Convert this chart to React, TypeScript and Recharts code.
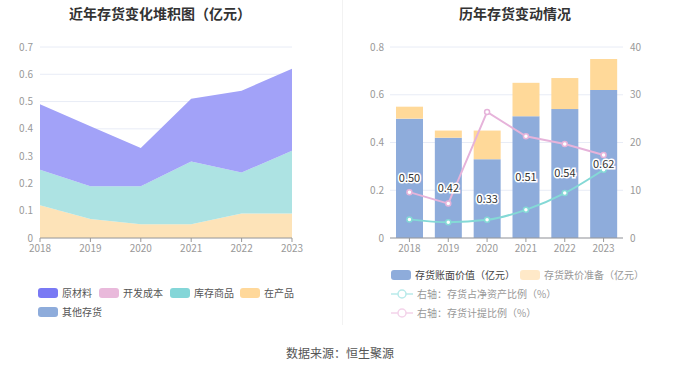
import {
  Area,
  AreaChart,
  Bar,
  CartesianGrid,
  ComposedChart,
  LabelList,
  Line,
  XAxis,
  YAxis,
} from "recharts";

const years = ["2018", "2019", "2020", "2021", "2022", "2023"];

// left: stacked inventory composition (亿元)
const rawMaterial = [0.24, 0.22, 0.14, 0.23, 0.3, 0.3];
const devCost = [0, 0, 0, 0, 0, 0];
const goodsInStock = [0.13, 0.12, 0.14, 0.23, 0.15, 0.23];
const workInProgress = [0.12, 0.07, 0.05, 0.05, 0.09, 0.09];
const otherInventory = [0, 0, 0, 0, 0, 0];
const leftTicks = [0, 0.1, 0.2, 0.3, 0.4, 0.5, 0.6, 0.7];

// right: book value + impairment, ratios on right axis
const bookValue = [0.5, 0.42, 0.33, 0.51, 0.54, 0.62];
const impairment = [0.05, 0.03, 0.12, 0.14, 0.13, 0.13];
const netAssetRatio = [3.9, 3.3, 3.8, 5.9, 9.4, 14.3];
const provisionRatio = [9.6, 7.2, 26.4, 21.3, 19.7, 17.4];
const rightLeftTicks = [0, 0.2, 0.4, 0.6, 0.8];
const rightRightTicks = [0, 10, 20, 30, 40];

const FONT = '"Noto Sans CJK SC", "Noto Sans", sans-serif';

const COLORS = {
  raw: "#7979F4",
  rawArea: "#A2A2F8",
  dev: "#E9B9DB",
  goods: "#84D6D8",
  goodsArea: "#ADE3E3",
  wip: "#FFD89A",
  wipArea: "#FDE3B8",
  other: "#8EACDB",
  book: "#8EACDB",
  impair: "#FFD999",
  netRatio: "#84D9D6",
  provRatio: "#E6B3DA",
  grid: "#E8ECF6",
  axis: "#999999",
  tick: "#999999",
};

const leftData = years.map((y, i) => ({
  year: y,
  原材料: rawMaterial[i],
  开发成本: devCost[i],
  库存商品: goodsInStock[i],
  在产品: workInProgress[i],
  其他存货: otherInventory[i],
}));

const rightData = years.map((y, i) => ({
  year: y,
  book: bookValue[i],
  impair: impairment[i],
  net: netAssetRatio[i],
  prov: provisionRatio[i],
}));

const tickStyle = { fill: COLORS.tick, fontSize: 10, fontFamily: FONT };

function Swatch({ color }: { color: string }) {
  return (
    <span
      style={{
        display: "inline-block",
        width: 20,
        height: 10,
        borderRadius: 3,
        background: color,
        marginRight: 4,
      }}
    />
  );
}

function LineIcon({ color }: { color: string }) {
  return (
    <svg width={22} height={12} style={{ marginRight: 4 }}>
      <line x1={0} y1={6} x2={22} y2={6} stroke={color} strokeWidth={1.5} />
      <circle cx={11} cy={6} r={4} fill="#fff" stroke={color} strokeWidth={1.5} />
    </svg>
  );
}

function LegendItem({
  x,
  y,
  icon,
  label,
  color,
}: {
  x: number;
  y: number;
  icon: React.ReactNode;
  label: string;
  color: string;
}) {
  return (
    <div
      style={{
        position: "absolute",
        left: x,
        top: y,
        display: "flex",
        alignItems: "center",
        fontSize: 10,
        color,
        whiteSpace: "nowrap",
        lineHeight: "12px",
      }}
    >
      {icon}
      {label}
    </div>
  );
}

export default function App() {
  return (
    <div
      style={{
        position: "fixed",
        left: 0,
        top: 0,
        width: 680,
        height: 367,
        background: "#fff",
        fontFamily: FONT,
        overflow: "hidden",
      }}
    >
      {/* titles */}
      <div
        style={{
          position: "absolute",
          left: 0,
          width: 320,
          top: 3,
          textAlign: "center",
          fontSize: 14,
          fontWeight: "bold",
          color: "#333",
        }}
      >
        近年存货变化堆积图（亿元）
      </div>
      <div
        style={{
          position: "absolute",
          left: 340,
          width: 350,
          top: 3,
          textAlign: "center",
          fontSize: 14,
          fontWeight: "bold",
          color: "#333",
        }}
      >
        历年存货变动情况
      </div>

      {/* separator */}
      <div
        style={{
          position: "absolute",
          left: 342,
          top: 0,
          width: 1,
          height: 325,
          background: "#F2F2F2",
        }}
      />

      {/* left chart */}
      <div style={{ position: "absolute", left: 0, top: 0 }}>
        <AreaChart
          width={340}
          height={260}
          data={leftData}
          margin={{ top: 47, right: 48, left: 0, bottom: 0 }}
        >
          <CartesianGrid vertical={false} stroke={COLORS.grid} />
          <XAxis
            dataKey="year"
            height={22}
            tick={tickStyle}
            tickSize={4}
            tickMargin={3}
            axisLine={{ stroke: COLORS.axis }}
            tickLine={{ stroke: COLORS.axis }}
            interval={0}
          />
          <YAxis
            width={40}
            domain={[0, 0.7]}
            ticks={leftTicks}
            tick={tickStyle}
            tickSize={0}
            tickMargin={7}
            axisLine={false}
            tickLine={false}
          />
          <Area
            type="linear"
            dataKey="在产品"
            stackId="a"
            fill={COLORS.wipArea}
            fillOpacity={1}
            stroke="none"
            isAnimationActive={false}
          />
          <Area
            type="linear"
            dataKey="库存商品"
            stackId="a"
            fill={COLORS.goodsArea}
            fillOpacity={1}
            stroke="none"
            isAnimationActive={false}
          />
          <Area
            type="linear"
            dataKey="开发成本"
            stackId="a"
            fill={COLORS.dev}
            fillOpacity={1}
            stroke="none"
            isAnimationActive={false}
          />
          <Area
            type="linear"
            dataKey="其他存货"
            stackId="a"
            fill={COLORS.other}
            fillOpacity={1}
            stroke="none"
            isAnimationActive={false}
          />
          <Area
            type="linear"
            dataKey="原材料"
            stackId="a"
            fill={COLORS.rawArea}
            fillOpacity={1}
            stroke="none"
            isAnimationActive={false}
          />
        </AreaChart>
      </div>

      {/* right chart */}
      <div style={{ position: "absolute", left: 340, top: 0 }}>
        <ComposedChart
          width={340}
          height={260}
          data={rightData}
          margin={{ top: 47, right: 0, left: 0, bottom: 0 }}
        >
          <CartesianGrid vertical={false} stroke={COLORS.grid} yAxisId="left" />
          <XAxis
            dataKey="year"
            height={22}
            tick={tickStyle}
            tickSize={4}
            tickMargin={3}
            axisLine={{ stroke: COLORS.axis }}
            tickLine={{ stroke: COLORS.axis }}
            interval={0}
          />
          <YAxis
            yAxisId="left"
            width={50}
            domain={[0, 0.8]}
            ticks={rightLeftTicks}
            tick={tickStyle}
            tickSize={0}
            tickMargin={6}
            axisLine={false}
            tickLine={false}
          />
          <YAxis
            yAxisId="right"
            orientation="right"
            width={57}
            domain={[0, 40]}
            ticks={rightRightTicks}
            tick={tickStyle}
            tickSize={0}
            tickMargin={7}
            axisLine={false}
            tickLine={false}
          />
          <Bar
            yAxisId="left"
            dataKey="book"
            stackId="b"
            fill={COLORS.book}
            barSize={27}
            isAnimationActive={false}
          >
            <LabelList
              dataKey="book"
              position="center"
              formatter={(v: any) => Number(v).toFixed(2)}
              style={{
                fill: "#333",
                fontSize: 11,
                fontFamily: FONT,
                stroke: "#fff",
                strokeWidth: 3,
                paintOrder: "stroke",
              }}
            />
          </Bar>
          <Bar
            yAxisId="left"
            dataKey="impair"
            stackId="b"
            fill={COLORS.impair}
            barSize={27}
            isAnimationActive={false}
          />
          <Line
            yAxisId="right"
            type="linear"
            dataKey="prov"
            stroke={COLORS.provRatio}
            strokeWidth={2}
            dot={{ r: 2.5, fill: "#fff", stroke: COLORS.provRatio, strokeWidth: 1.5 }}
            isAnimationActive={false}
          />
          <Line
            yAxisId="right"
            type="monotone"
            dataKey="net"
            stroke={COLORS.netRatio}
            strokeWidth={2}
            dot={{ r: 2.5, fill: "#fff", stroke: COLORS.netRatio, strokeWidth: 1.5 }}
            isAnimationActive={false}
          />
        </ComposedChart>
      </div>

      {/* left legend */}
      <LegendItem x={38} y={287} icon={<Swatch color={COLORS.raw} />} label="原材料" color="#555" />
      <LegendItem x={99} y={287} icon={<Swatch color={COLORS.dev} />} label="开发成本" color="#555" />
      <LegendItem x={170} y={287} icon={<Swatch color={COLORS.goods} />} label="库存商品" color="#555" />
      <LegendItem x={240} y={287} icon={<Swatch color={COLORS.wip} />} label="在产品" color="#555" />
      <LegendItem x={38} y={306} icon={<Swatch color={COLORS.other} />} label="其他存货" color="#555" />

      {/* right legend */}
      <LegendItem x={391} y={269} icon={<Swatch color={COLORS.book} />} label="存货账面价值（亿元）" color="#444" />
      <LegendItem x={520} y={269} icon={<Swatch color="#FFE9C8" />} label="存货跌价准备（亿元）" color="#999" />
      <LegendItem x={391} y={288} icon={<LineIcon color="#B8EAEA" />} label="右轴：存货占净资产比例（%）" color="#999" />
      <LegendItem x={391} y={307} icon={<LineIcon color="#F3D3EA" />} label="右轴：存货计提比例（%）" color="#999" />

      {/* footer */}
      <div
        style={{
          position: "absolute",
          left: 0,
          width: 680,
          top: 344,
          textAlign: "center",
          fontSize: 12,
          color: "#555",
        }}
      >
        数据来源：恒生聚源
      </div>
    </div>
  );
}
